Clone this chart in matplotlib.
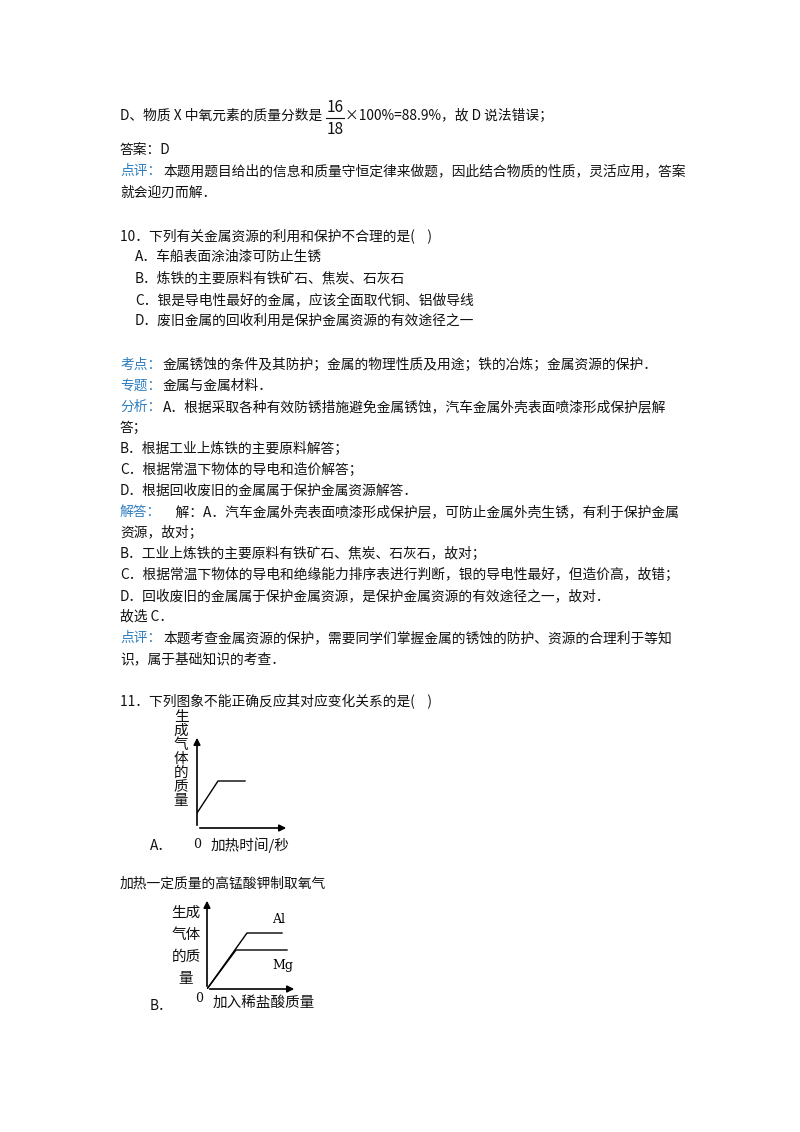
import matplotlib.pyplot as plt

plt.rcParams['font.family'] = ['Noto Sans CJK SC', 'DejaVu Sans']

W, H = 800, 1132
BLUE = '#2f7fc1'
FS = 9.9

# 文本行: (y像素, x像素, 蓝色标签, 正文)
lines = [
    (150, 120, '', '答案：D'),
    (171, 120, '点评：', '本题用题目给出的信息和质量守恒定律来做题，因此结合物质的性质，灵活应用，答案'),
    (193, 120, '', '就会迎刃而解．'),
    (236, 120, '', '10．下列有关金属资源的利用和保护不合理的是(    )'),
    (257, 135, '', 'A．车船表面涂油漆可防止生锈'),
    (279, 135, '', 'B．炼铁的主要原料有铁矿石、焦炭、石灰石'),
    (300, 135, '', 'C．银是导电性最好的金属，应该全面取代铜、铝做导线'),
    (321, 135, '', 'D．废旧金属的回收利用是保护金属资源的有效途径之一'),
    (365, 120, '考点：', '金属锈蚀的条件及其防护；金属的物理性质及用途；铁的冶炼；金属资源的保护．'),
    (386, 120, '专题：', '金属与金属材料．'),
    (407, 120, '分析：', 'A．根据采取各种有效防锈措施避免金属锈蚀，汽车金属外壳表面喷漆形成保护层解'),
    (428, 120, '', '答；'),
    (449, 120, '', 'B．根据工业上炼铁的主要原料解答；'),
    (470, 120, '', 'C．根据常温下物体的导电和造价解答；'),
    (491, 120, '', 'D．根据回收废旧的金属属于保护金属资源解答．'),
    (512, 120, '解答：', '    解：A．汽车金属外壳表面喷漆形成保护层，可防止金属外壳生锈，有利于保护金属'),
    (533, 120, '', '资源，故对；'),
    (554, 120, '', 'B．工业上炼铁的主要原料有铁矿石、焦炭、石灰石，故对；'),
    (575, 120, '', 'C．根据常温下物体的导电和绝缘能力排序表进行判断，银的导电性最好，但造价高，故错；'),
    (596, 120, '', 'D．回收废旧的金属属于保护金属资源，是保护金属资源的有效途径之一，故对．'),
    (617, 120, '', '故选 C．'),
    (638, 120, '点评：', '本题考查金属资源的保护，需要同学们掌握金属的锈蚀的防护、资源的合理利于等知'),
    (659, 120, '', '识，属于基础知识的考查．'),
    (702, 120, '', '11．下列图象不能正确反应其对应变化关系的是(    )'),
    (846, 150, '', 'A．'),
    (884, 120, '', '加热一定质量的高锰酸钾制取氧气'),
    (1006, 150, '', 'B．'),
]

# 图A: 加热高锰酸钾
a_x = [0, 21, 48]
a_y = [15, 47, 47]
# 图B: Al / Mg
al_x = [0, 40, 75]
al_y = [0, 56, 56]
mg_x = [0, 29, 80]
mg_y = [0, 39, 39]

fig = plt.figure(figsize=(W / 100, H / 100), dpi=100)
fig.patch.set_facecolor('white')


def txt(x, y, s, **kw):
    kw.setdefault('fontsize', FS)
    kw.setdefault('va', 'center')
    kw.setdefault('color', '#111111')
    return fig.text(x / W, 1 - y / H, s, **kw)


# 第一行 (带分数)
txt(120, 116, 'D、物质 X 中氧元素的质量分数是')
txt(335, 108, '16', ha='center', fontsize=11)
txt(335, 129, '18', ha='center', fontsize=11)
fig.add_artist(plt.Line2D([326 / W, 344 / W], [1 - 118 / H, 1 - 118 / H], color='#111111', lw=0.8))
txt(345, 116, '×100%=88.9%，故 D 说法错误；')

for y, x, lab, body in lines:
    if lab:
        txt(x, y, lab, color=BLUE)
        txt(x + 43, y, body)
    else:
        txt(x, y, body)


def make_ax(left, bottom, w, h):
    ax = fig.add_axes([left / W, 1 - bottom / H, w / W, h / H])
    ax.set_xlim(0, w)
    ax.set_ylim(0, h)
    ax.axis('off')
    kw = dict(arrowprops=dict(arrowstyle='-|>', color='black', lw=1.2, mutation_scale=10),
              annotation_clip=False)
    ax.annotate('', xy=(0, h), xytext=(0, 0), **kw)
    ax.annotate('', xy=(w, 0), xytext=(0, 0), **kw)
    return ax


axA = make_ax(197, 828, 92, 93)
axA.plot(a_x, a_y, color='black', lw=1)
for i, ch in enumerate('生成气体的质量'):
    txt(181, 717 + i * 14, ch, ha='center', fontsize=10.5)
txt(197, 845, '0', ha='center', fontsize=9, family='DejaVu Serif')
txt(211, 845, '加热时间/秒', fontsize=10.5)

axB = make_ax(207, 989, 90, 91)
axB.plot(al_x, al_y, color='black', lw=1)
axB.plot(mg_x, mg_y, color='black', lw=1)
axB.text(65, 66, 'Al', fontsize=9, family='DejaVu Serif')
axB.text(65, 20, 'Mg', fontsize=9, family='DejaVu Serif')
for i, s in enumerate(['生成', '气体', '的质', '量']):
    txt(186, 913 + i * 22, s, ha='center', fontsize=10.5)
txt(199, 999, '0', ha='center', fontsize=9, family='DejaVu Serif')
txt(213, 1003, '加入稀盐酸质量', fontsize=10.5)

fig.savefig('out.png', dpi=100, facecolor='white')
